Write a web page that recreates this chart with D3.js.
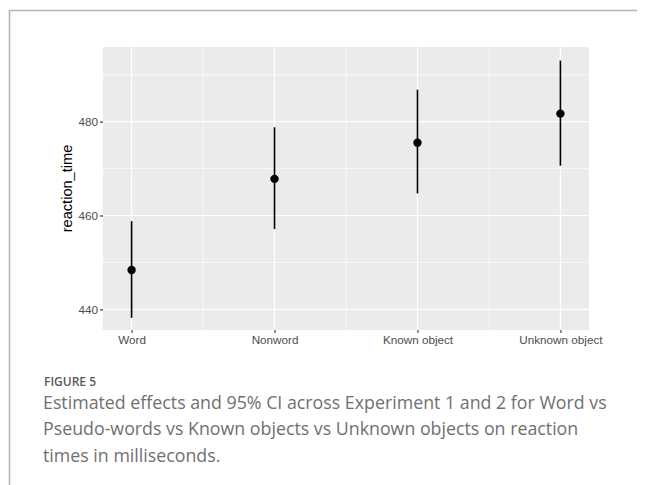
<!DOCTYPE html>
<html>
<head>
<meta charset="utf-8">
<script src="https://cdn.jsdelivr.net/npm/d3@7"></script>
<style>
  body { margin: 0; background: #fff; }
</style>
</head>
<body>
<div id="chart"></div>
<script>
// data
const conditions = ["Word", "Nonword", "Known object", "Unknown object"];
const estimates = [448.4, 467.8, 475.5, 481.7];
const lowerCI = [438.2, 457.1, 464.7, 470.6];
const upperCI = [458.8, 478.8, 486.8, 493.0];
const yTicks = [440, 460, 480];
const yMinor = [450, 470, 490];

const captionTitle = "FIGURE 5";
const captionLines = [
  "Estimated effects and 95% CI across Experiment 1 and 2 for Word vs",
  "Pseudo-words vs Known objects vs Unknown objects on reaction",
  "times in milliseconds."
];

const W = 646, H = 485;
const panel = { left: 103, right: 589, top: 47, bottom: 330 };

const svg = d3.select("#chart")
  .append("svg")
  .attr("width", W)
  .attr("height", H);

// page frame (top and left rules)
svg.append("line")
  .attr("x1", 9).attr("x2", 637).attr("y1", 10.5).attr("y2", 10.5)
  .attr("stroke", "#b3b3b3").attr("stroke-width", 1.5);
svg.append("line")
  .attr("x1", 9.5).attr("x2", 9.5).attr("y1", 10).attr("y2", H)
  .attr("stroke", "#b3b3b3").attr("stroke-width", 1.5);

// scales
const x = d3.scalePoint()
  .domain(conditions)
  .range([panel.left, panel.right])
  .padding(0.2);

const y = d3.scaleLinear()
  .domain([435.6, 495.9])
  .range([panel.bottom, panel.top]);

// panel background
svg.append("rect")
  .attr("x", panel.left)
  .attr("y", panel.top)
  .attr("width", panel.right - panel.left)
  .attr("height", panel.bottom - panel.top)
  .attr("fill", "#ebebeb");

// minor grid
const xMid = conditions.slice(1).map((c, i) => (x(c) + x(conditions[i])) / 2);
svg.append("g").selectAll("line")
  .data(yMinor)
  .join("line")
  .attr("x1", panel.left).attr("x2", panel.right)
  .attr("y1", d => y(d)).attr("y2", d => y(d))
  .attr("stroke", "#fff").attr("stroke-width", 0.6);
svg.append("g").selectAll("line")
  .data(xMid)
  .join("line")
  .attr("x1", d => d).attr("x2", d => d)
  .attr("y1", panel.top).attr("y2", panel.bottom)
  .attr("stroke", "#fff").attr("stroke-width", 0.6);

// major grid
svg.append("g").selectAll("line")
  .data(yTicks)
  .join("line")
  .attr("x1", panel.left).attr("x2", panel.right)
  .attr("y1", d => y(d)).attr("y2", d => y(d))
  .attr("stroke", "#fff").attr("stroke-width", 1.2);
svg.append("g").selectAll("line")
  .data(conditions)
  .join("line")
  .attr("x1", d => x(d)).attr("x2", d => x(d))
  .attr("y1", panel.top).attr("y2", panel.bottom)
  .attr("stroke", "#fff").attr("stroke-width", 1.2);

// axes
const yAxis = svg.append("g")
  .attr("transform", `translate(${panel.left},0)`)
  .call(d3.axisLeft(y).tickValues(yTicks).tickSize(3).tickPadding(2));
const xAxis = svg.append("g")
  .attr("transform", `translate(0,${panel.bottom})`)
  .call(d3.axisBottom(x).tickSize(3).tickPadding(3));

[yAxis, xAxis].forEach(g => {
  g.select(".domain").remove();
  g.selectAll(".tick line").attr("stroke", "#333").attr("stroke-width", 1.1);
  g.selectAll(".tick text")
    .attr("fill", "#4d4d4d")
    .style("font-family", "Liberation Sans, Arial, sans-serif")
    .style("font-size", "11.7px");
});

// y axis title
svg.append("text")
  .attr("transform", `translate(72,${(panel.top + panel.bottom) / 2}) rotate(-90)`)
  .attr("text-anchor", "middle")
  .style("font-family", "Liberation Sans, Arial, sans-serif")
  .style("font-size", "14.6px")
  .attr("fill", "#000")
  .text("reaction_time");

// error bars + points
svg.append("g").selectAll("line")
  .data(conditions)
  .join("line")
  .attr("x1", d => x(d)).attr("x2", d => x(d))
  .attr("y1", (d, i) => y(lowerCI[i]))
  .attr("y2", (d, i) => y(upperCI[i]))
  .attr("stroke", "#000")
  .attr("stroke-width", 1.6);

svg.append("g").selectAll("circle")
  .data(conditions)
  .join("circle")
  .attr("cx", d => x(d))
  .attr("cy", (d, i) => y(estimates[i]))
  .attr("r", 4.2)
  .attr("fill", "#000");

// caption
const capFont = "'Open Sans', 'Noto Sans', sans-serif";
svg.append("text")
  .attr("x", 44)
  .attr("y", 386)
  .style("font-family", capFont)
  .style("font-weight", 600)
  .style("font-size", "12px")
  .attr("fill", "#595959")
  .text(captionTitle);

const capText = svg.append("g").selectAll("text")
  .data(captionLines)
  .join("text")
  .attr("x", 43)
  .attr("y", (d, i) => 408.5 + i * 26.5)
  .style("font-family", capFont)
  .style("font-size", "16px")
  .attr("fill", "#707070")
  .text(d => d);

// fit first caption line to the width seen in the figure
const firstLen = capText.nodes()[0].getComputedTextLength();
capText.style("font-size", (16 * 564 / firstLen) + "px");
</script>
</body>
</html>
